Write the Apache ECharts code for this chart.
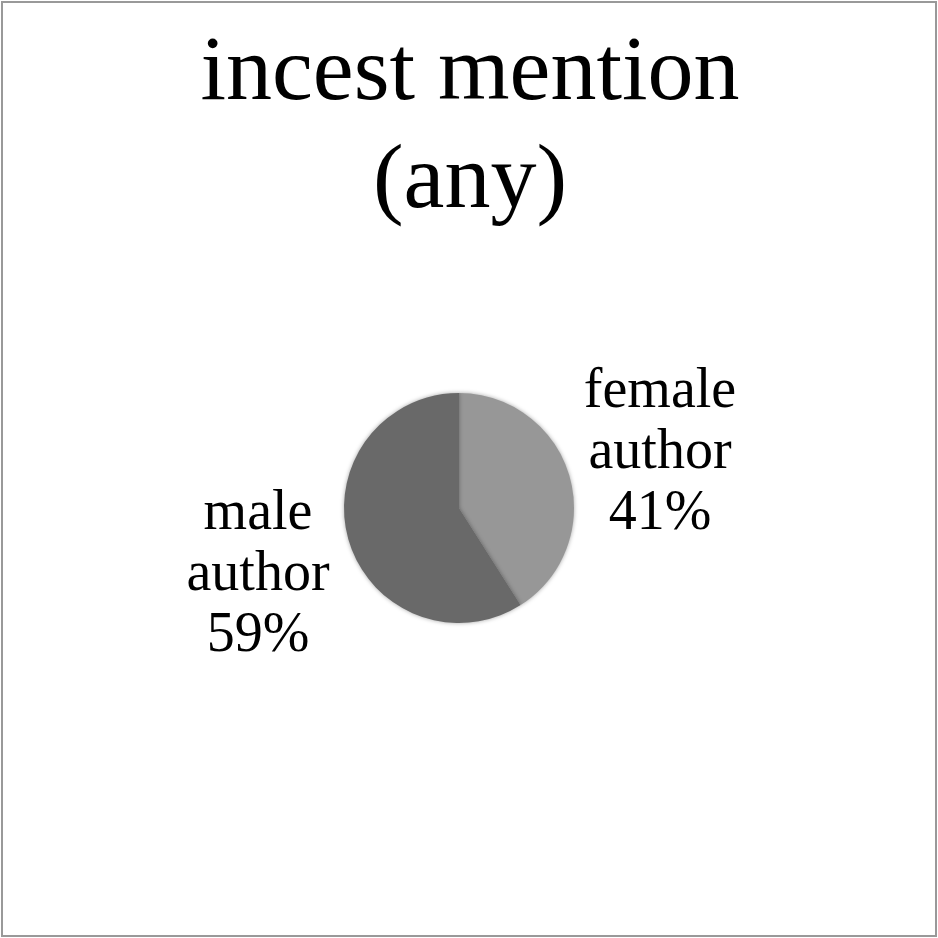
<!DOCTYPE html>
<html>
<head>
<meta charset="utf-8">
<script src="https://cdn.jsdelivr.net/npm/echarts@6/dist/echarts.min.js"></script>
<style>
  html, body { margin: 0; padding: 0; background: #fff; }
  #chart { position: absolute; left: 0; top: 0; width: 938px; height: 938px; }
  .frame {
    position: absolute; left: 1px; top: 1px; width: 936px; height: 936px;
    box-sizing: border-box; border: 2px solid #999; pointer-events: none;
  }
</style>
</head>
<body>
<div id="chart"></div>
<div class="frame"></div>
<script>
// data
const titleText = 'incest mention\n(any)';
const categories = ['female\nauthor', 'male\nauthor'];
const values = [41, 59];
const sliceColors = ['#979797', '#696969'];

// label centres, relative to the pie centre (px)
const labelOffsets = [[201, -55], [-201, 67]];

const chart = echarts.init(document.getElementById('chart'));
const pieCenter = [459, 508];

chart.setOption({
  backgroundColor: '#fff',
  animation: false,
  title: {
    text: titleText,
    left: 465,
    top: 16,
    textAlign: 'center',
    textStyle: {
      fontFamily: 'Liberation Serif',
      fontWeight: 'normal',
      fontSize: 92,
      lineHeight: 108,
      color: '#000'
    }
  },
  series: [
    {
      type: 'pie',
      center: pieCenter,
      radius: 115,
      startAngle: 90,
      clockwise: true,
      data: categories.map((name, i) => ({
        name,
        value: values[i],
        itemStyle: { color: sliceColors[i] }
      })),
      itemStyle: {
        shadowBlur: 4,
        shadowColor: 'rgba(0,0,0,0.35)',
        borderWidth: 0
      },
      label: {
        show: true,
        position: 'outside',
        formatter: p => p.name + '\n' + p.value + '%',
        fontFamily: 'Liberation Serif',
        fontSize: 56,
        lineHeight: 61,
        color: '#000',
        align: 'center'
      },
      labelLine: { show: false },
      labelLayout: params => {
        const off = labelOffsets[params.dataIndex];
        return {
          x: pieCenter[0] + off[0],
          y: pieCenter[1] + off[1],
          align: 'center',
          verticalAlign: 'middle'
        };
      },
      emphasis: { disabled: true }
    }
  ]
});
</script>
</body>
</html>
